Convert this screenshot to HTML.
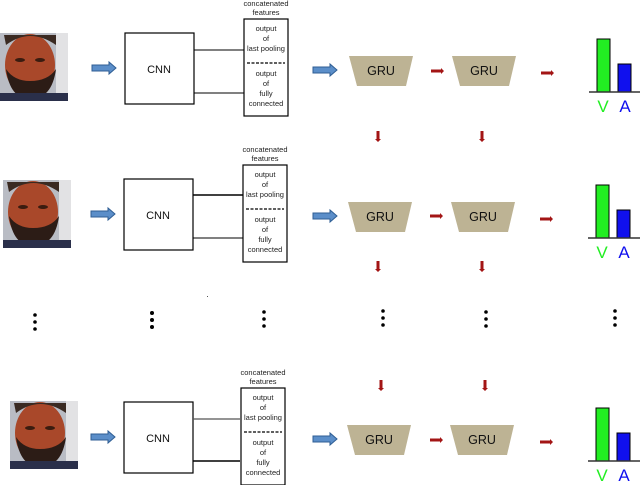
<!DOCTYPE html>
<html><head><style>
html,body{margin:0;padding:0;background:#fff;}
svg{display:block;}
text{font-family:"Liberation Sans",sans-serif;}
</style></head><body>
<svg width="640" height="485" viewBox="0 0 640 485" xmlns="http://www.w3.org/2000/svg">
<defs>
<g id="face">
  <rect x="0" y="0" width="68" height="68" fill="#b9bcc4"/>
  <rect x="56" y="0" width="12" height="68" fill="#e2e2e4"/>
  <ellipse cx="30" cy="32" rx="25" ry="31" fill="#a9482a"/>
  <path d="M6 12 Q30 -6 56 12 L56 2 L4 2Z" fill="#3a2a22"/>
  <path d="M6 36 Q10 66 30 66 Q52 66 56 36 Q48 48 30 48 Q14 48 6 36Z" fill="#2c1c16"/>
  <rect x="0" y="60" width="68" height="8" fill="#2a2f4a"/>
  <ellipse cx="20" cy="27" rx="5" ry="2" fill="#3a1c10"/>
  <ellipse cx="40" cy="27" rx="5" ry="2" fill="#3a1c10"/>
</g>
<g id="barrow"><path d="M0 -3 L17 -3 L17 -6 L24 0 L17 6 L17 3 L0 3Z" fill="#5b8ec9" stroke="#2f5e94" stroke-width="1"/></g>
<g id="rarrow"><path d="M0 -1.5 L10 -1.5 L10 -3 L13 0 L10 3 L10 1.5 L0 1.5Z" fill="#a31515"/></g>
<g id="darrow"><path d="M-1.5 0 L1.5 0 L1.5 8 L3 8 L0 11 L-3 8 L-1.5 8Z" fill="#a31515"/></g>
<g id="gru"><path d="M0 0 L64 0 L57 30 L8 30Z" fill="#bdb394"/><text x="32" y="19" font-size="12.5" text-anchor="middle" fill="#111">GRU</text></g>
<g id="feat">
  <rect x="0" y="0" width="44" height="97" fill="#fff" stroke="#000" stroke-width="1.2"/>
  <text x="22" y="-13" font-size="7.5" text-anchor="middle" fill="#222">concatenated</text>
  <text x="22" y="-4" font-size="7.5" text-anchor="middle" fill="#222">features</text>
  <text x="22" y="12" font-size="7.5" text-anchor="middle" fill="#222">output</text>
  <text x="22" y="22" font-size="7.5" text-anchor="middle" fill="#222">of</text>
  <text x="22" y="32" font-size="7.5" text-anchor="middle" fill="#222">last pooling</text>
  <line x1="3" y1="44" x2="41" y2="44" stroke="#000" stroke-width="1.2" stroke-dasharray="3,1.5"/>
  <text x="22" y="57" font-size="7.5" text-anchor="middle" fill="#222">output</text>
  <text x="22" y="67" font-size="7.5" text-anchor="middle" fill="#222">of</text>
  <text x="22" y="77" font-size="7.5" text-anchor="middle" fill="#222">fully</text>
  <text x="22" y="87" font-size="7.5" text-anchor="middle" fill="#222">connected</text>
</g>
<g id="cnn"><rect x="0" y="0" width="69" height="71" fill="#fff" stroke="#000" stroke-width="1.2"/><text x="34" y="40" font-size="11" text-anchor="middle" fill="#111">CNN</text></g>
<g id="bars">
  <rect x="0" y="0" width="13" height="53" fill="#22ee22" stroke="#000" stroke-width="1"/>
  <rect x="21" y="25" width="13" height="28" fill="#1010ee" stroke="#000" stroke-width="1"/>
  <line x1="-8" y1="53" x2="44" y2="53" stroke="#333" stroke-width="1.5"/>
  <text x="6" y="73" font-size="17" text-anchor="middle" fill="#22ee22">V</text>
  <text x="28" y="73" font-size="17" text-anchor="middle" fill="#1010ee">A</text>
</g>
</defs>

<!-- Row 1 -->
<use href="#face" x="0" y="33"/>
<use href="#barrow" x="92" y="68"/>
<use href="#cnn" x="125" y="33"/>
<line x1="194" y1="50" x2="244" y2="50" stroke="#000"/>
<line x1="194" y1="93" x2="244" y2="93" stroke="#000"/>
<use href="#feat" x="244" y="19"/>
<use href="#barrow" x="313" y="70"/>
<use href="#gru" x="349" y="56"/>
<use href="#rarrow" x="431" y="71"/>
<use href="#gru" x="452" y="56"/>
<use href="#rarrow" x="541" y="73"/>
<use href="#bars" x="597" y="39"/>
<use href="#darrow" x="378" y="131"/>
<use href="#darrow" x="482" y="131"/>

<!-- Row 2 -->
<use href="#face" x="3" y="180"/>
<use href="#barrow" x="91" y="214"/>
<use href="#cnn" x="124" y="179"/>
<line x1="193" y1="195" x2="243" y2="195" stroke="#000" stroke-width="1.5"/>
<line x1="193" y1="238" x2="243" y2="238" stroke="#000"/>
<use href="#feat" x="243" y="165"/>
<use href="#barrow" x="313" y="216"/>
<use href="#gru" x="348" y="202"/>
<use href="#rarrow" x="430" y="216"/>
<use href="#gru" x="451" y="202"/>
<use href="#rarrow" x="540" y="219"/>
<use href="#bars" x="596" y="185"/>
<use href="#darrow" x="378" y="261"/>
<use href="#darrow" x="482" y="261"/>
<rect x="207" y="296" width="1" height="1" fill="#555"/>

<!-- Dots -->
<g fill="#000">
  <circle cx="35" cy="315" r="1.8"/><circle cx="35" cy="322" r="1.8"/><circle cx="35" cy="329" r="1.8"/>
  <circle cx="152" cy="313" r="2"/><circle cx="152" cy="320" r="2"/><circle cx="152" cy="327" r="2"/>
  <circle cx="264" cy="312" r="1.8"/><circle cx="264" cy="319" r="1.8"/><circle cx="264" cy="326" r="1.8"/>
  <circle cx="383" cy="311" r="1.8"/><circle cx="383" cy="318" r="1.8"/><circle cx="383" cy="325" r="1.8"/>
  <circle cx="486" cy="312" r="1.8"/><circle cx="486" cy="319" r="1.8"/><circle cx="486" cy="326" r="1.8"/>
  <circle cx="615" cy="311" r="1.8"/><circle cx="615" cy="318" r="1.8"/><circle cx="615" cy="325" r="1.8"/>
</g>

<!-- Row 3 -->
<use href="#darrow" x="381" y="380"/>
<use href="#darrow" x="485" y="380"/>
<use href="#face" x="10" y="401"/>
<use href="#barrow" x="91" y="437"/>
<use href="#cnn" x="124" y="402"/>
<line x1="193" y1="419" x2="240" y2="419" stroke="#555" stroke-width="1.2"/>
<line x1="193" y1="461" x2="240" y2="461" stroke="#000" stroke-width="1.5"/>
<use href="#feat" x="241" y="388"/>
<use href="#barrow" x="313" y="439"/>
<use href="#gru" x="347" y="425"/>
<use href="#rarrow" x="430" y="440"/>
<use href="#gru" x="450" y="425"/>
<use href="#rarrow" x="540" y="442"/>
<use href="#bars" x="596" y="408"/>
</svg>
</body></html>
